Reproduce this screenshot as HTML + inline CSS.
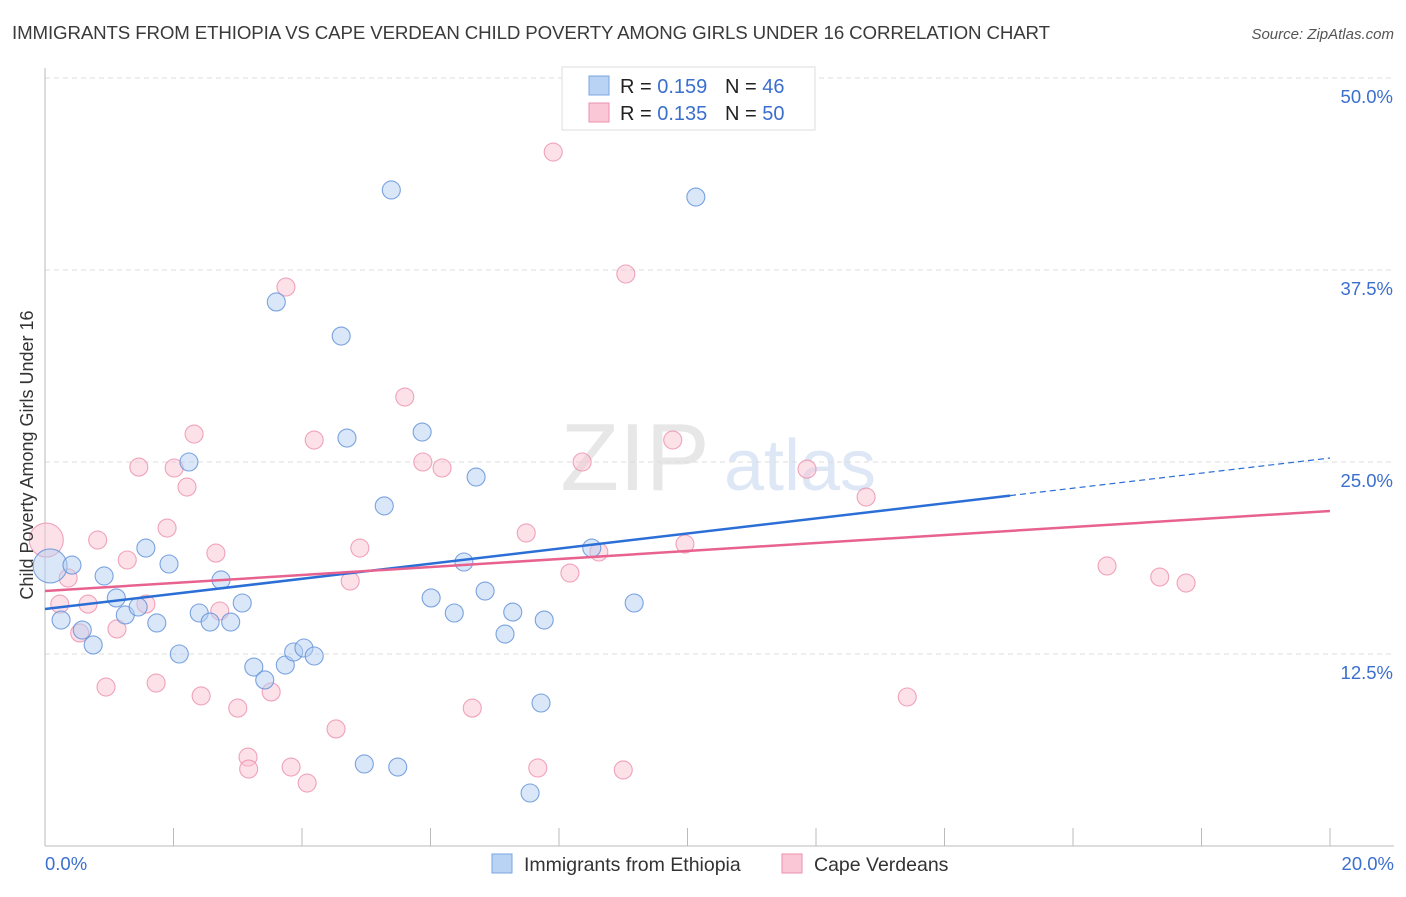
<!DOCTYPE html>
<html><head><meta charset="utf-8"><style>
body{margin:0;background:#fff;font-family:"Liberation Sans",sans-serif;}
svg text{font-family:"Liberation Sans",sans-serif;}
</style></head><body>
<svg id="chart" width="1406" height="892" xmlns="http://www.w3.org/2000/svg">
<text x="12" y="39" font-size="18.7" fill="#3a3a3a" textLength="1038">IMMIGRANTS FROM ETHIOPIA VS CAPE VERDEAN CHILD POVERTY AMONG GIRLS UNDER 16 CORRELATION CHART</text>
<text x="1394" y="39" font-size="15" fill="#555" font-style="italic" text-anchor="end">Source: ZipAtlas.com</text>
<g><text x="635" y="490" font-size="96" fill="#ddd" font-family="Liberation Serif" text-anchor="middle" opacity="0.7">ZIP</text><text x="800" y="490" font-size="72" fill="#c8d8ef" text-anchor="middle" opacity="0.6">atlas</text></g>
<g id="grid"></g>
<g id="axes"></g>
<g id="pts"></g>
<g id="lines"></g>
<g>
<rect x="562" y="67" width="253" height="63" fill="#fff" stroke="#ddd"/>
<rect x="589" y="76" width="20" height="19" fill="#b9d3f5" stroke="#7aa6e0"/>
<rect x="589" y="103" width="20" height="19" fill="#fac7d6" stroke="#ee92ad"/>
<text x="620" y="93" font-size="20" fill="#222">R = <tspan fill="#3a6fce">0.159</tspan></text>
<text x="725" y="93" font-size="20" fill="#222">N = <tspan fill="#3a6fce">46</tspan></text>
<text x="620" y="120" font-size="20" fill="#222">R = <tspan fill="#3a6fce">0.135</tspan></text>
<text x="725" y="120" font-size="20" fill="#222">N = <tspan fill="#3a6fce">50</tspan></text>
</g>
<g>
<rect x="492" y="854" width="20" height="19" fill="#b9d3f5" stroke="#7aa6e0"/>
<text x="524" y="871" font-size="19.5" fill="#333">Immigrants from Ethiopia</text>
<rect x="782" y="854" width="20" height="19" fill="#fac7d6" stroke="#ee92ad"/>
<text x="814" y="871" font-size="19.5" fill="#333">Cape Verdeans</text>
</g>
<text transform="translate(33,455) rotate(-90)" font-size="18" fill="#333" text-anchor="middle">Child Poverty Among Girls Under 16</text>
</svg>
<script>
const yTicks=[12.5,25,37.5,50];
const yTickLabels=["12.5%","25.0%","37.5%","50.0%"];
const xTickLabels=["0.0%","20.0%"];
const blueX=[0.08,0.42,0.92,0.25,0.58,0.75,1.11,1.25,1.45,1.57,1.74,1.93,2.09,2.24,2.40,2.57,2.74,2.89,3.07,3.25,3.42,3.60,3.74,3.87,4.03,4.19,4.61,4.70,4.97,5.28,5.39,5.49,5.87,6.01,6.37,6.52,6.71,6.85,7.16,7.28,7.72,7.55,7.77,8.51,9.17,10.13];
const blueY=[18.23,18.29,17.58,14.71,14.06,13.09,16.15,15.04,15.56,19.40,14.52,18.36,12.50,25.00,15.17,14.58,17.32,14.58,15.82,11.65,10.81,35.42,11.78,12.63,12.89,12.37,33.20,26.56,5.34,22.14,42.71,5.14,26.95,16.15,15.17,18.49,24.02,16.60,13.80,15.23,9.31,3.45,14.71,19.40,15.82,42.25];
const pinkX=[0.02,0.23,0.36,0.54,0.67,0.82,0.95,1.12,1.28,1.46,1.57,1.73,1.90,2.01,2.21,2.32,2.43,2.66,2.72,3.00,3.16,3.17,3.52,3.75,3.83,4.08,4.19,4.53,4.75,4.90,5.60,5.88,6.18,6.65,7.49,7.67,7.91,8.17,8.36,8.62,9.00,9.04,9.77,9.96,11.86,12.78,13.42,16.53,17.35,17.76];
const pinkY=[19.92,15.75,17.45,13.87,15.75,19.92,10.35,14.13,18.62,24.67,15.75,10.61,20.70,24.61,23.37,26.82,9.77,19.07,15.30,8.98,5.79,5.01,10.03,36.39,5.14,4.10,26.43,7.62,17.25,19.40,29.23,25.00,24.61,8.98,20.38,5.08,45.18,17.77,25.00,19.14,4.95,37.24,26.43,19.66,24.54,22.72,9.70,18.23,17.51,17.12];
const blueTrend=[15.43,25.26];
const blueSolidEnd=15.02;
const pinkTrend=[16.60,21.81];
const X=v=>45+v/20*1285;
const Y=v=>846-v/50*768;
const NS="http://www.w3.org/2000/svg";
function mk(t,a,p){const e=document.createElementNS(NS,t);for(const k in a)e.setAttribute(k,a[k]);p.appendChild(e);return e;}
const grid=document.getElementById('grid'),axes=document.getElementById('axes');
yTicks.forEach((t,i)=>{
 const g=mk('line',{x1:45,x2:1394,y1:Y(t),y2:Y(t),stroke:'#ddd','stroke-dasharray':'5,4'},grid);
 
 
 const l=mk('text',{x:1393,y:Y(t)+25,'font-size':18.5,fill:'#3a6fce','text-anchor':'end'},axes);
 l.textContent=yTickLabels[i];
 
 
});
const ya=mk('line',{x1:45,x2:45,y1:68,y2:846,stroke:'#bbb'},axes);


const xa=mk('line',{x1:45,x2:1394,y1:846,y2:846,stroke:'#bbb'},axes);


for(let i=1;i<=10;i++){const tk=mk('line',{x1:X(i*2),x2:X(i*2),y1:828,y2:846,stroke:'#bbb'},axes);
 
 }
[[0,'start',45],[20,'end',1394]].forEach((d,i)=>{const t=mk('text',{x:d[2],y:870,'font-size':18.5,fill:'#3a6fce','text-anchor':d[1]},axes);t.textContent=xTickLabels[i];
 
 });
const pts=document.getElementById('pts');
function dots(xs,ys,fill,stroke,name){xs.forEach((x,i)=>{const r=(i===0)?17:9;
 const c=mk('circle',{cx:X(x),cy:Y(ys[i]),r:r,fill:fill,'fill-opacity':0.5,stroke:stroke,'stroke-opacity':0.8,'stroke-width':1.1},pts);
 
 });}
dots(pinkX,pinkY,'#f9c3d3','#ec8fac','cape-verdean-point');
dots(blueX,blueY,'#b5cff2','#5d8fd8','ethiopia-point');
const lines=document.getElementById('lines');
const bY=x=>blueTrend[0]+(blueTrend[1]-blueTrend[0])*x/20;
const b1=mk('line',{x1:X(0),y1:Y(bY(0)),x2:X(blueSolidEnd),y2:Y(bY(blueSolidEnd)),stroke:'#2b6fd6','stroke-width':2.5},lines);


const b2=mk('line',{x1:X(blueSolidEnd),y1:Y(bY(blueSolidEnd)),x2:X(20),y2:Y(bY(20)),stroke:'#2b6fd6','stroke-width':1.2,'stroke-dasharray':'6,4'},lines);


const p1=mk('line',{x1:X(0),y1:Y(pinkTrend[0]),x2:X(20),y2:Y(pinkTrend[1]),stroke:'#e8628f','stroke-width':2.5},lines);


</script>
</body></html>
